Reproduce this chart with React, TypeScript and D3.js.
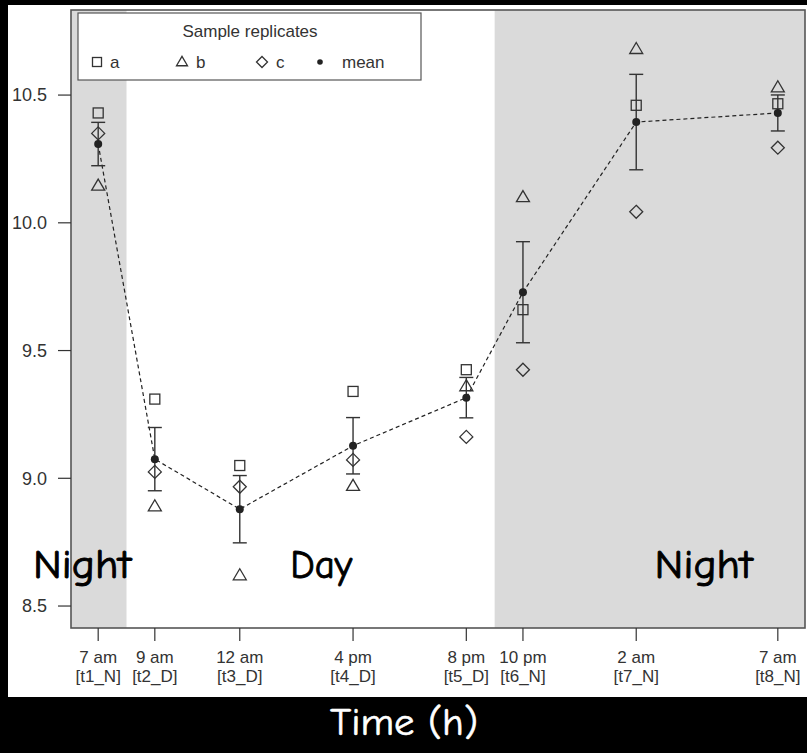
import React from "react";
import * as d3 from "d3";

const hours = [0, 2, 5, 9, 13, 15, 19, 24];
const timeLabels = ["7 am", "9 am", "12 am", "4 pm", "8 pm", "10 pm", "2 am", "7 am"];
const timeCodes = ["[t1_N]", "[t2_D]", "[t3_D]", "[t4_D]", "[t5_D]", "[t6_N]", "[t7_N]", "[t8_N]"];
const repA = [10.43, 9.31, 9.05, 9.34, 9.425, 9.66, 10.46, 10.466];
const repB = [10.145, 8.89, 8.62, 8.97, 9.36, 10.1, 10.68, 10.53];
const repC = [10.35, 9.025, 8.967, 9.072, 9.162, 9.425, 10.043, 10.294];
const yTicks = [8.5, 9.0, 9.5, 10.0, 10.5];
const nightStart = [-0.96, 14];
const nightEnd = [1, 24.96];
const periodLabels = ["Night", "Day", "Night"];
const periodHours = [-2.3, 6.78, 19.65];
const legendLabels = ["a", "b", "c", "mean"];

const W = 807;
const H = 753;
const comic = "'Comic Sans MS', 'Comic Neue', 'DejaVu Sans', sans-serif";
const sans = "'Liberation Sans', Arial, sans-serif";
const ink = "#333";

const means = hours.map((_, i) => d3.mean([repA[i], repB[i], repC[i]]) as number);
const ses = hours.map((_, i) => (d3.deviation([repA[i], repB[i], repC[i]]) as number) / Math.sqrt(3));

function Square({ x, y, s = 10 }: { x: number; y: number; s?: number }) {
  return <rect x={x - s / 2} y={y - s / 2} width={s} height={s} fill="none" stroke={ink} strokeWidth={1.3} />;
}
function Triangle({ x, y, s = 13 }: { x: number; y: number; s?: number }) {
  const h = s * 0.85;
  return (
    <path
      d={`M${x},${y - h * 0.6} L${x + s / 2},${y + h * 0.4} L${x - s / 2},${y + h * 0.4} Z`}
      fill="none"
      stroke={ink}
      strokeWidth={1.3}
    />
  );
}
function Diamond({ x, y, s = 13 }: { x: number; y: number; s?: number }) {
  const r = s / 2;
  return (
    <path d={`M${x},${y - r} L${x + r},${y} L${x},${y + r} L${x - r},${y} Z`} fill="none" stroke={ink} strokeWidth={1.3} />
  );
}

export default function App() {
  const x = d3.scaleLinear().domain([-0.96, 24.96]).range([71, 805]);
  const y = d3.scaleLinear().domain([8.414, 10.833]).range([628, 10]);
  const line = d3
    .line<number>()
    .x((_, i) => x(hours[i]))
    .y((d) => y(d));
  const [x0, x1] = x.range();
  const [yb, yt] = y.range();

  const legendX = [97, 182, 262, 320];
  const legendTextX = [110, 196, 276, 342];

  return (
    <svg width={W} height={H} style={{ position: "fixed", left: 0, top: 0, display: "block" }}>
      <rect x={0} y={0} width={W} height={H} fill="#000" />
      <rect x={8} y={5} width={W - 8} height={692} fill="#fff" />
      {/* night shading */}
      {nightStart.map((s, i) => (
        <rect key={i} x={x(s)} y={yt} width={x(nightEnd[i]) - x(s)} height={yb - yt} fill="#dadada" />
      ))}
      {/* period labels */}
      {periodLabels.map((t, i) => (
        <text
          key={i}
          x={x(periodHours[i])}
          y={578}
          fontFamily={comic}
          fontSize={40}
          fill="#000"
          stroke="#000"
          strokeWidth={0.9}
          textLength={t === "Day" ? 62 : 98}
          lengthAdjust="spacingAndGlyphs"
        >
          {t}
        </text>
      ))}
      {/* frame */}
      <rect x={x0} y={yt} width={x1 - x0} height={yb - yt} fill="none" stroke="#555" strokeWidth={1.6} />
      {/* y axis */}
      {yTicks.map((t) => (
        <g key={t}>
          <line x1={x0 - 13} x2={x0} y1={y(t)} y2={y(t)} stroke={ink} strokeWidth={1.2} />
          <text x={47} y={y(t)} dy="0.35em" textAnchor="end" fontFamily={sans} fontSize={18} fill={ink}>
            {t.toFixed(1)}
          </text>
        </g>
      ))}
      {/* x axis */}
      {hours.map((h, i) => (
        <g key={i}>
          <line x1={x(h)} x2={x(h)} y1={yb} y2={yb + 13} stroke={ink} strokeWidth={1.2} />
          <text x={x(h)} y={663} textAnchor="middle" fontFamily={sans} fontSize={17} fill={ink}>
            {timeLabels[i]}
          </text>
          <text x={x(h)} y={682} textAnchor="middle" fontFamily={sans} fontSize={17} fill={ink}>
            {timeCodes[i]}
          </text>
        </g>
      ))}
      {/* mean line */}
      <path d={line(means) || ""} fill="none" stroke="#222" strokeWidth={1.2} strokeDasharray="4,3" />
      {/* error bars */}
      {hours.map((h, i) => {
        const cx = x(h);
        const hi = y(means[i] + ses[i]);
        const lo = y(means[i] - ses[i]);
        return (
          <g key={i} stroke={ink} strokeWidth={1.4}>
            <line x1={cx} x2={cx} y1={hi} y2={lo} />
            <line x1={cx - 7} x2={cx + 7} y1={hi} y2={hi} />
            <line x1={cx - 7} x2={cx + 7} y1={lo} y2={lo} />
          </g>
        );
      })}
      {/* replicates */}
      {hours.map((h, i) => (
        <g key={i}>
          <Square x={x(h)} y={y(repA[i])} />
          <Triangle x={x(h)} y={y(repB[i])} />
          <Diamond x={x(h)} y={y(repC[i])} />
          <circle cx={x(h)} cy={y(means[i])} r={4} fill="#222" />
        </g>
      ))}
      {/* legend */}
      <rect x={78} y={13} width={343} height={67} fill="#fff" stroke="#555" strokeWidth={1.2} />
      <text x={250} y={37} textAnchor="middle" fontFamily={sans} fontSize={17} fill={ink}>
        Sample replicates
      </text>
      <Square x={legendX[0]} y={62} s={9} />
      <Triangle x={legendX[1]} y={62} s={11} />
      <Diamond x={legendX[2]} y={62} s={11} />
      <circle cx={legendX[3]} cy={62} r={2.8} fill="#222" />
      {legendLabels.map((t, i) => (
        <text key={t} x={legendTextX[i]} y={62} dy="0.35em" fontFamily={sans} fontSize={17} fill={ink}>
          {t}
        </text>
      ))}
      {/* x title */}
      <text
        x={404}
        y={735}
        textAnchor="middle"
        fontFamily={comic}
        fontSize={38}
        fill="#fff"
        stroke="#fff"
        strokeWidth={0.6}
        textLength={148}
        lengthAdjust="spacingAndGlyphs"
      >
        Time (h)
      </text>
    </svg>
  );
}
